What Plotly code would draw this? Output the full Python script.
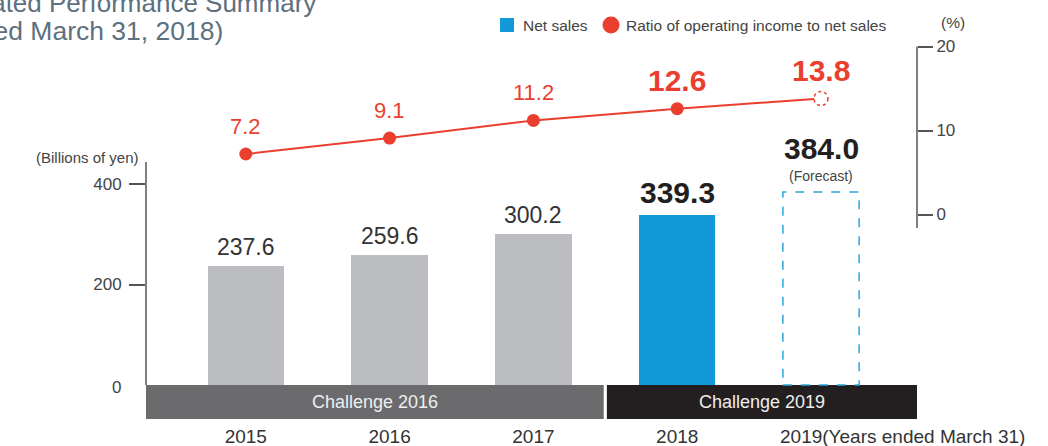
import plotly.graph_objects as go

# data
years = ["2015", "2016", "2017", "2018", "2019"]
net_sales = [237.6, 259.6, 300.2, 339.3, 384.0]
op_ratio = [7.2, 9.1, 11.2, 12.6, 13.8]
is_forecast = [False, False, False, False, True]
is_current = [False, False, False, True, True]
plan_names = ["Challenge 2016", "Challenge 2019"]
plan_years = [["2015", "2016", "2017"], ["2018", "2019"]]

FONT = "Liberation Sans, Arial, sans-serif"
RED = "#ea3f2f"
BLUE = "#1199d8"
GRAY_BAR = "#bcbdc1"
DASH_BLUE = "#2aa6de"
AXIS = "#555555"
TXT = "#444444"
BAND_COLORS = ["#6b6b6e", "#231f20"]

W, H = 1048, 446
L, R, T, B = 146, 917, 40, 419          # plot area, px
Y0_PX, Y_SCALE = 385, 0.5025             # left axis: px of 0, px per unit
Y2_0_PX, Y2_SCALE = 214.5, 8.4           # right axis
X0_PX, X_STEP = 245.8, 143.8             # first category centre, step
BAR_W = 0.53


def px(x):
    return (x - L) / (R - L)


def py(y):
    return (B - y) / (B - T)


def note(x, y, text, size, color=TXT, xanchor="center"):
    # free text placed in pixel terms (paper coords)
    return dict(x=px(x), y=py(y), xref="paper", yref="paper", text=text, showarrow=False,
                xanchor=xanchor, yanchor="middle", font=dict(size=size, color=color))


y_range = [-(B - Y0_PX) / Y_SCALE, (Y0_PX - T) / Y_SCALE]
y2_range = [-(B - Y2_0_PX) / Y2_SCALE, (Y2_0_PX - T) / Y2_SCALE]
x_range = [-(X0_PX - L) / X_STEP, (R - X0_PX) / X_STEP]

fig = go.Figure()

bar_colors = [
    "rgba(0,0,0,0)" if f else (BLUE if c else GRAY_BAR)
    for f, c in zip(is_forecast, is_current)
]
fig.add_trace(go.Bar(
    x=years, y=net_sales, width=BAR_W, name="Net sales",
    marker=dict(color=bar_colors, line_width=0),
    hovertemplate="%{x}: %{y:.1f}<extra></extra>",
))
fig.add_trace(go.Scatter(
    x=years, y=op_ratio, yaxis="y2", mode="lines+markers",
    name="Ratio of operating income to net sales",
    line=dict(color=RED, width=2),
    marker=dict(color=RED, size=[0 if f else 13 for f in is_forecast], line_width=0, opacity=1),
    hovertemplate="%{x}: %{y:.1f}%<extra></extra>",
))

annotations = []
shapes = []

# value labels
for i, (v, r, f, c) in enumerate(zip(net_sales, op_ratio, is_forecast, is_current)):
    if f:
        shapes.append(dict(type="rect", xref="x", yref="y", x0=i - BAR_W / 2, x1=i + BAR_W / 2,
                           y0=0, y1=v, line=dict(color=DASH_BLUE, width=1.5, dash="dash"),
                           fillcolor="rgba(0,0,0,0)", layer="above"))
        shapes.append(dict(type="circle", xref="x", yref="y2", xsizemode="pixel", ysizemode="pixel",
                           xanchor=i, yanchor=r, x0=-7, x1=7, y0=-7, y1=7,
                           line=dict(color=RED, width=1.5, dash="3px,3px"), fillcolor="white",
                           layer="above"))
        annotations.append(dict(x=i, y=v, xref="x", yref="y", text="(Forecast)", showarrow=False,
                                yanchor="middle", yshift=16, font=dict(size=14, color=TXT)))
        annotations.append(dict(x=i, y=v, xref="x", yref="y", text=f"<b>{v:.1f}</b>", showarrow=False,
                                yanchor="middle", yshift=44, font=dict(size=30, color="#231f20")))
    elif c:
        annotations.append(dict(x=i, y=v, xref="x", yref="y", text=f"<b>{v:.1f}</b>", showarrow=False,
                                yanchor="middle", yshift=22, font=dict(size=30, color="#231f20")))
    else:
        annotations.append(dict(x=i, y=v, xref="x", yref="y", text=f"{v:.1f}", showarrow=False,
                                yanchor="middle", yshift=19, font=dict(size=23, color="#333333")))
    rtxt = f"<b>{r:.1f}</b>" if c else f"{r:.1f}"
    annotations.append(dict(x=i, y=r, xref="x", yref="y2", text=rtxt, showarrow=False,
                            yanchor="middle", yshift=28,
                            font=dict(size=30 if c else 22, color=RED)))

# plan bands under the axis
edges = [x_range[0]]
for grp in plan_years[:-1]:
    edges.append(years.index(grp[-1]) + 0.5)
edges.append(x_range[1])
for k, name in enumerate(plan_names):
    x0 = edges[k] + (0.011 if k > 0 else 0)
    x1 = edges[k + 1] - (0.011 if k < len(plan_names) - 1 else 0)
    shapes.append(dict(type="rect", xref="x", yref="y", x0=x0, x1=x1, y0=y_range[0], y1=0,
                       fillcolor=BAND_COLORS[k], line_width=0, layer="below"))
    annotations.append(dict(x=(x0 + x1) / 2, y=y_range[0] / 2, xref="x", yref="y", text=name,
                            showarrow=False, yanchor="middle",
                            font=dict(size=18, color="#eeeeee")))

# axis lines
shapes.append(dict(type="line", xref="paper", yref="y", x0=0, x1=0, y0=0, y1=444,
                   line=dict(color=AXIS, width=1.5)))
shapes.append(dict(type="line", xref="paper", yref="y2", x0=1, x1=1, y0=-1.6, y1=20,
                   line=dict(color=AXIS, width=1.5)))

# legend
shapes.append(dict(type="rect", xref="paper", yref="paper", x0=px(500), x1=px(514),
                   y0=py(32), y1=py(18), fillcolor=BLUE, line_width=0))
shapes.append(dict(type="circle", xref="paper", yref="paper", x0=px(602.5), x1=px(619.5),
                   y0=py(33.5), y1=py(16.5), fillcolor=RED, line_width=0))
annotations.append(note(521, 25, "Net sales", 15.5, xanchor="left"))
annotations.append(note(624, 25, "Ratio of operating income to net sales", 15.5, xanchor="left"))
annotations.append(note(939, 23, "(%)", 15.5, xanchor="left"))

# titles / axis captions
annotations.append(note(318, 3, "Consolidated Performance Summary", 26, "#5d7080", "right"))
annotations.append(note(225, 31, "(Fiscal year ended March 31, 2018)", 26.5, "#5d7080", "right"))
annotations.append(note(141, 157, "(Billions of yen)", 15, xanchor="right"))
annotations.append(dict(x=px(123), y=0, xref="paper", yref="y", text="0", xanchor="right",
                        yanchor="middle", yshift=-2, showarrow=False, font=dict(size=17, color=TXT)))
annotations.append(dict(x=len(years) - 1, y=py(436), xref="x", yref="paper",
                        text=f"{years[-1]}(Years ended March 31)", xanchor="left",
                        yanchor="middle", xshift=-43, showarrow=False,
                        font=dict(size=19, color="#333333")))

fig.update_layout(
    width=W, height=H,
    margin=dict(l=L, r=W - R, t=T, b=H - B),
    paper_bgcolor="white", plot_bgcolor="white",
    font=dict(family=FONT, color=TXT),
    showlegend=False,
    bargap=0,
    shapes=shapes,
    annotations=annotations,
    xaxis=dict(type="category", range=x_range, tickvals=years[:-1], ticktext=years[:-1],
               showgrid=False, showline=False, zeroline=False, ticks="", automargin=False,
               tickfont=dict(size=19, color="#333333"), ticklabelstandoff=4),
    yaxis=dict(range=y_range, tickvals=[200, 400], showgrid=False, zeroline=False,
               showline=False, ticks="outside", ticklen=16, tickwidth=1.5, tickcolor=AXIS,
               automargin=False, tickfont=dict(size=17, color=TXT), ticklabelstandoff=4),
    yaxis2=dict(range=y2_range, overlaying="y", side="right", tickvals=[0, 10, 20],
                showgrid=False, zeroline=False, showline=False, ticks="outside", ticklen=15,
                tickwidth=1.5, tickcolor=AXIS, automargin=False,
                tickfont=dict(size=17, color=TXT)),
)

fig.write_html(
    "out.html",
    config={"displayModeBar": False},
    post_script="document.body.style.margin='0';document.body.style.overflow='hidden';",
)
